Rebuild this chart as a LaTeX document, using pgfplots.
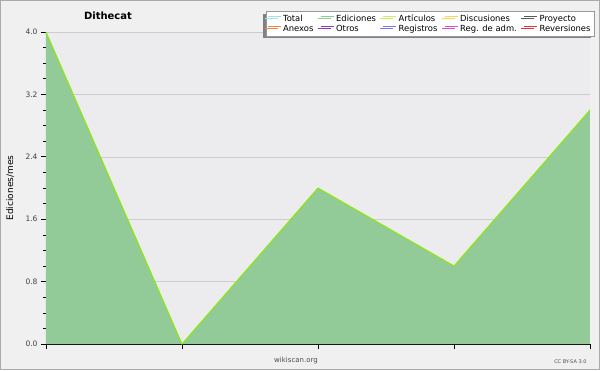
\documentclass[border=0pt]{standalone}
\usepackage{fontspec}
\setmainfont{DejaVu Sans}
\usepackage{pgfplots}
\pgfplotsset{compat=1.18}
\usetikzlibrary{shadows}
\definecolor{outerbg}{RGB}{240,240,240}
\definecolor{plotbg}{RGB}{236,236,239}
\definecolor{framec}{RGB}{170,170,170}
\definecolor{cTotal}{RGB}{160,225,225}
\definecolor{cEd}{RGB}{147,203,152}
\definecolor{cArt}{RGB}{200,240,100}
\definecolor{cArtLine}{RGB}{140,235,0}
\definecolor{cDis}{RGB}{255,210,90}
\definecolor{cProy}{RGB}{90,90,90}
\definecolor{cAnx}{RGB}{240,130,70}
\definecolor{cOtr}{RGB}{140,60,200}
\definecolor{cReg}{RGB}{120,120,240}
\definecolor{cRadm}{RGB}{210,80,230}
\definecolor{cRev}{RGB}{230,50,50}
\begin{document}
\begin{tikzpicture}[x=1pt,y=1pt]
\useasboundingbox (0,0) rectangle (600,370);
\fill[outerbg] (0,0) rectangle (600,370);
\draw[framec,line width=1.2pt] (0.6,0.6) rectangle (599.4,369.4);
\begin{axis}[
  at={(46pt,26pt)}, anchor=south west,
  scale only axis, width=544pt, height=312pt,
  xmin=0, xmax=4, ymin=0, ymax=4,
  axis lines*=left,
  axis line style={black, line width=0.8pt},
  axis background/.style={fill=plotbg},
  xtick={0,1,2,3,4}, xticklabels={},
  ytick={0,0.8,1.6,2.4,3.2,4.0},
  minor y tick num=3,
  yticklabel style={/pgf/number format/.cd, fixed, fixed zerofill, precision=1},
  /pgf/number format/assume math mode=true,
  ticklabel style={font=\fontsize{7.5}{8}\selectfont, text=black!75},
  tick align=outside,
  major tick length=5pt, minor tick length=3pt,
  tick style={black, line width=0.6pt},
  ymajorgrids, grid style={black!20, line width=0.5pt},
  clip=false,
  legend columns=5,
  legend style={at={(1.0074,1.067)}, anchor=north east,
    font=\fontsize{8.4}{8.6}\selectfont, draw=black!40, fill=white,
    inner sep=1.3pt, row sep=-2pt,
    /tikz/every even column/.append style={column sep=5pt},
    drop shadow={shadow xshift=-3pt, shadow yshift=-2.5pt, fill=black!50, opacity=1}},
  legend cell align=left,
  legend image code/.code={\draw[#1, line width=0.7pt] (0pt,2.6pt) -- (13pt,2.6pt);},
]
\addlegendimage{cTotal}\addlegendentry{Total}
\addlegendimage{cEd}\addlegendentry{Ediciones}
\addlegendimage{cArt}\addlegendentry{Artículos}
\addlegendimage{cDis}\addlegendentry{Discusiones}
\addlegendimage{cProy}\addlegendentry{Proyecto}
\addlegendimage{cAnx}\addlegendentry{Anexos}
\addlegendimage{cOtr}\addlegendentry{Otros}
\addlegendimage{cReg}\addlegendentry{Registros}
\addlegendimage{cRadm}\addlegendentry{Reg. de adm.}
\addlegendimage{cRev}\addlegendentry{Reversiones}
\addplot[draw=none, fill=cEd, forget plot] coordinates {(0,4) (1,0) (2,2) (3,1) (4,3)} \closedcycle;
\addplot[cArtLine, line width=1pt, forget plot] coordinates {(0,4) (1,0) (2,2) (3,1) (4,3)};
\end{axis}
\node[rotate=90, font=\fontsize{9}{9}\selectfont] at (10,182) {Ediciones/mes};
\node[font=\bfseries\fontsize{10}{11}\selectfont] at (108,354) {Dithecat};
\node[font=\fontsize{7}{8}\selectfont, text=black!70] at (296,9) {wikiscan.org};
\node[font=\fontsize{5}{6}\selectfont, text=black!70, anchor=east] at (590,8) {CC BY-SA 3.0};
\end{tikzpicture}
\end{document}
